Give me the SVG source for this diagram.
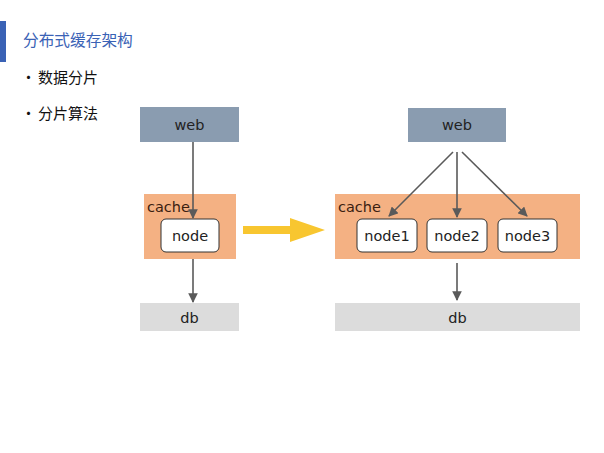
<svg xmlns="http://www.w3.org/2000/svg" width="604" height="453" viewBox="0 0 604 453">
<style>
.cn{font-family:"Noto Sans CJK SC","Noto Sans",sans-serif}
.t{font-family:"DejaVu Sans","Noto Sans",sans-serif;font-size:14.5px;fill:#222;text-anchor:middle}
.web{fill:#8a9cb0}
.cache{fill:#f4b183}
.db{fill:#dcdcdc}
.node{fill:#fff;stroke:#333;stroke-width:1}
.edge{stroke:#5a5a5a;stroke-width:1.6;fill:none;marker-end:url(#ah)}
.ct{font-family:"DejaVu Sans","Noto Sans",sans-serif;font-size:14.5px;fill:#3a2010}
</style>
<defs>
<marker id="ah" viewBox="0 0 10 10" refX="9" refY="5" markerWidth="6" markerHeight="6" orient="auto" markerUnits="strokeWidth">
<path d="M0,0 L10,5 L0,10 z" fill="#5a5a5a"/>
</marker>
</defs>
<rect width="604" height="453" fill="#fff"/>
<g id="title">
<rect x="0" y="21" width="6" height="41" fill="#3a62b5"/>
<text x="23" y="46" class="cn" font-size="15.7" fill="#3a62b5">分布式缓存架构</text>
</g>
<g id="bullets" class="cn" font-size="15" fill="#111">
<text x="21" y="83">•</text>
<text x="38" y="83">数据分片</text>
<text x="21" y="119">•</text>
<text x="38" y="119">分片算法</text>
</g>
<g id="left">
<g id="web1"><rect class="web" x="140" y="107" width="99" height="35"/><text class="t" x="189.5" y="130">web</text></g>
<g id="cache1"><rect class="cache" x="144" y="194" width="92" height="65"/><text class="ct" x="147" y="212">cache</text></g>
<g id="node0"><rect class="node" x="161" y="219" width="58" height="33" rx="5"/><text class="t" x="190" y="241">node</text></g>
<g id="db1"><rect class="db" x="140" y="303" width="99" height="28"/><text class="t" x="189.5" y="322.5">db</text></g>
</g>
<g id="arrow-big">
<polygon points="243,226 290,226 290,218 325,230 290,242 290,234 243,234" fill="#f8c630"/>
</g>
<g id="right">
<g id="web2"><rect class="web" x="408" y="108" width="98" height="34"/><text class="t" x="457" y="130">web</text></g>
<g id="cache2"><rect class="cache" x="335" y="194" width="245" height="65"/><text class="ct" x="338" y="212">cache</text></g>
<g id="node1"><rect class="node" x="357" y="219" width="60" height="33" rx="5"/><text class="t" x="387" y="241">node1</text></g>
<g id="node2"><rect class="node" x="427" y="219" width="60" height="33" rx="5"/><text class="t" x="457" y="241">node2</text></g>
<g id="node3"><rect class="node" x="498" y="219" width="59" height="33" rx="5"/><text class="t" x="527.5" y="241">node3</text></g>
<g id="db2"><rect class="db" x="335" y="303" width="245" height="28"/><text class="t" x="457.5" y="322.5">db</text></g>
</g>
<g id="connectors">
<line class="edge" x1="193" y1="142" x2="193" y2="218"/>
<line class="edge" x1="193" y1="259" x2="193" y2="302"/>
<line class="edge" x1="453" y1="152" x2="389" y2="216"/>
<line class="edge" x1="457" y1="152" x2="457" y2="217"/>
<line class="edge" x1="462" y1="152" x2="527" y2="216"/>
<line class="edge" x1="457" y1="263" x2="457" y2="300"/>
</g>
</svg>
